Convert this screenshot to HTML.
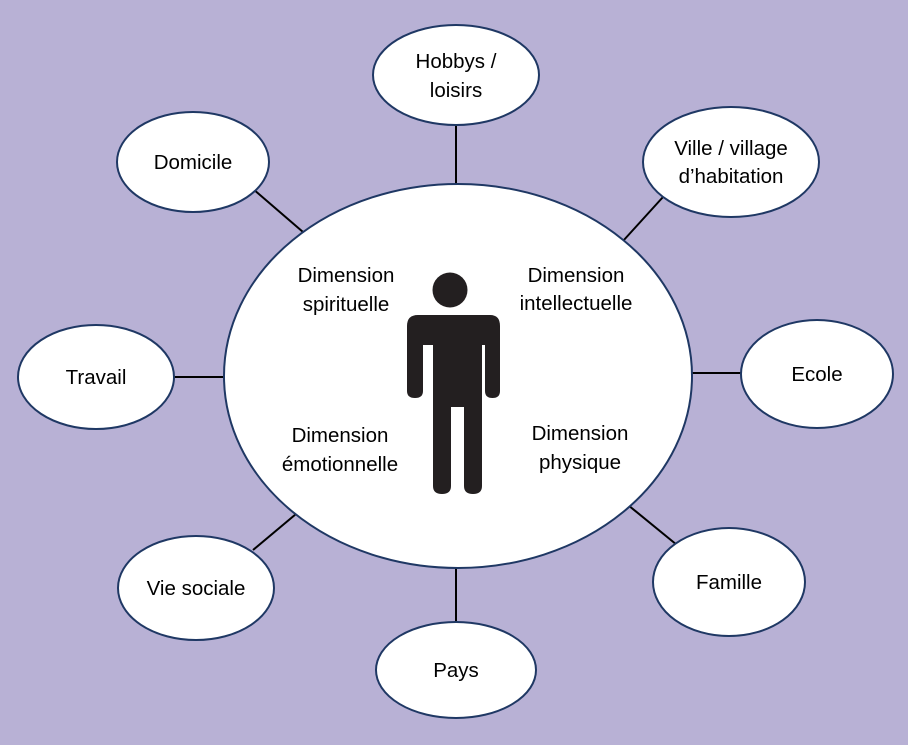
<!DOCTYPE html>
<html><head><meta charset="utf-8"><style>
body{margin:0;background:#b8b1d5;}
svg{display:block}
text{font-family:"Liberation Sans",sans-serif;font-size:20.5px;fill:#000;text-anchor:middle}
</style></head><body>
<svg width="908" height="745" viewBox="0 0 908 745">
<rect width="908" height="745" fill="#b8b1d5"/>
<g stroke="#000" stroke-width="2">
<line x1="456" y1="125" x2="456" y2="184"/>
<line x1="253" y1="189" x2="303" y2="232"/>
<line x1="663" y1="197" x2="623" y2="241"/>
<line x1="174" y1="377" x2="224" y2="377"/>
<line x1="692" y1="373" x2="742" y2="373"/>
<line x1="253" y1="550" x2="296" y2="514"/>
<line x1="677" y1="545" x2="628" y2="505"/>
<line x1="456" y1="568" x2="456" y2="622"/>
</g>
<g fill="#fff" stroke="#1f3864" stroke-width="2">
<ellipse cx="458" cy="376" rx="234" ry="192"/>
<ellipse cx="456" cy="75" rx="83" ry="50"/>
<ellipse cx="193" cy="162" rx="76" ry="50"/>
<ellipse cx="731" cy="162" rx="88" ry="55"/>
<ellipse cx="96" cy="377" rx="78" ry="52"/>
<ellipse cx="817" cy="374" rx="76" ry="54"/>
<ellipse cx="196" cy="588" rx="78" ry="52"/>
<ellipse cx="729" cy="582" rx="76" ry="54"/>
<ellipse cx="456" cy="670" rx="80" ry="48"/>
</g>
<g fill="#231f20">
<circle cx="450" cy="290" r="17.5"/>
<path d="M418 315 H490 Q500 315 500 326 V391 Q500 398 492.5 398 Q485 398 485 391 V345 H482 V486 Q482 494 473 494 Q464 494 464 486 V407 H451 V486 Q451 494 442 494 Q433 494 433 486 V345 H423 V391 Q423 398 415 398 Q407 398 407 391 V326 Q407 315 418 315Z"/>
</g>
<text x="456" y="68">Hobbys /</text><text x="456" y="97">loisirs</text>
<text x="193" y="169">Domicile</text>
<text x="731" y="155">Ville / village</text><text x="731" y="183">d’habitation</text>
<text x="96" y="384">Travail</text>
<text x="817" y="381">Ecole</text>
<text x="196" y="595">Vie sociale</text>
<text x="729" y="589">Famille</text>
<text x="456" y="677">Pays</text>
<text x="346" y="282">Dimension</text><text x="346" y="311">spirituelle</text>
<text x="576" y="282">Dimension</text><text x="576" y="310">intellectuelle</text>
<text x="340" y="442">Dimension</text><text x="340" y="471">émotionnelle</text>
<text x="580" y="440">Dimension</text><text x="580" y="469">physique</text>
</svg>
</body></html>
